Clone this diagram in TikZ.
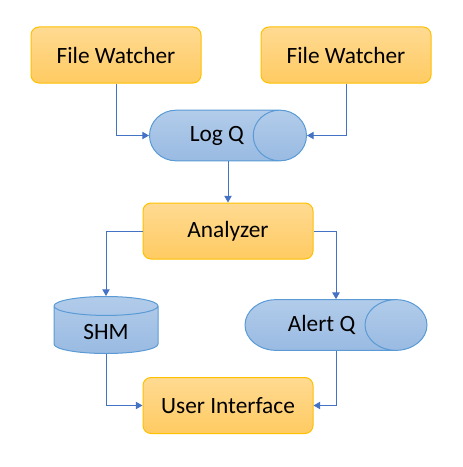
\documentclass[tikz,border=0pt]{standalone}
\usepackage{fontspec}
\setmainfont{Carlito}
\usetikzlibrary{shapes.geometric,arrows.meta}

\definecolor{boxtop}{HTML}{FFDA92}
\definecolor{boxbot}{HTML}{FFCB62}
\definecolor{boxline}{HTML}{FFC000}
\definecolor{qtop}{HTML}{B2CCEA}
\definecolor{qbot}{HTML}{99BAE2}
\definecolor{qline}{HTML}{5B9BD5}
\definecolor{wire}{HTML}{4472C4}

\tikzset{
  procbox/.style={rectangle, rounded corners=6pt, draw=boxline, line width=0.75pt,
    top color=boxtop, bottom color=boxbot, minimum width=127.5pt, minimum height=42pt},
  queue/.style={cylinder, anchor=shape center, draw=qline, line width=0.75pt,
    top color=qtop, bottom color=qbot, minimum height=#1, minimum width=38pt, aspect=2.2,
    execute at begin node=\hspace*{15pt}},
  store/.style={cylinder, anchor=shape center, shape border rotate=90, draw=qline,
    line width=0.75pt, top color=qtop, bottom color=qbot,
    minimum width=78pt, minimum height=42.75pt, aspect=0.35},
  flow/.style={draw=wire, line width=0.75pt, -{Triangle[length=5pt,width=5.5pt]}}
}

\begin{document}
\begin{tikzpicture}[x=0.75pt, y=-0.75pt, font=\fontsize{17.5}{21}\selectfont]
  \useasboundingbox (0,0) rectangle (462,467);

  % Producers
  \node[procbox] (watchA) at (116,55) {File Watcher};
  \node[procbox] (watchB) at (346,55) {File Watcher};

  % Queues, processing and storage
  \node[queue=117.75pt, aspect=1.9] (logq) at (228,135.5) {Log Q};
  \node[procbox] (analyzer) at (228,231) {Analyzer};
  \node[store] (shm) at (106,325) {SHM};
  \node[queue=136.5pt] (alertq) at (336,325) {Alert Q};
  \node[procbox] (ui) at (228,405.5) {User Interface};

  % Connectors
  \draw[flow] (watchA.south) |- (logq.west);
  \draw[flow] (watchB.south) |- (logq.east);
  \draw[flow] (logq.shape center |- logq.south) -- (analyzer.north);
  \draw[flow] (analyzer.west) -| (shm.north);
  \draw[flow] (analyzer.east) -| (alertq.shape center |- alertq.north);
  \draw[flow] (shm.south) |- (ui.west);
  \draw[flow] (alertq.shape center |- alertq.south) |- (ui.east);
\end{tikzpicture}
\end{document}
